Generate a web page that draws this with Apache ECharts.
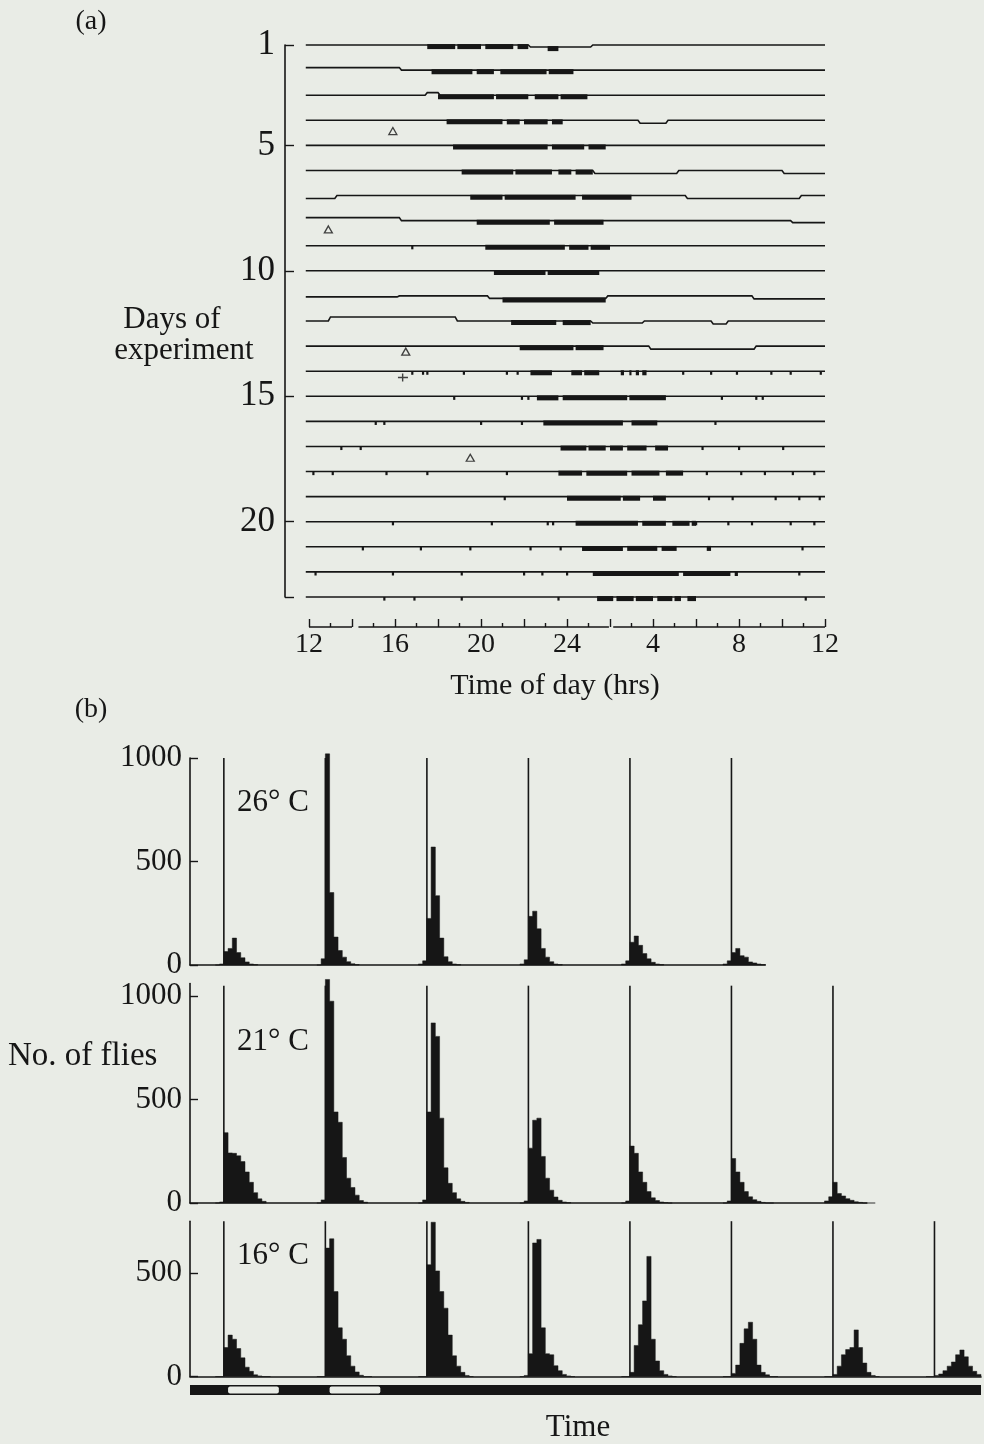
<!DOCTYPE html>
<html><head><meta charset="utf-8">
<script src="https://cdn.jsdelivr.net/npm/echarts@6/dist/echarts.min.js"></script>
<style>html,body{margin:0;padding:0;background:#e9ece6}#c{width:984px;height:1444px}</style>
</head><body><div id="c"></div>
<script>
// ---------- Panel (a): actogram ----------
const dayNumbers = [1,2,3,4,5,6,7,8,9,10,11,12,13,14,15,16,17,18,19,20,21,22,23];
const yTickDays = [1,5,10,15,20];
const xTickHours = [12,16,20,24,28,32,36]; // shown as 12 16 20 24 4 8 12
const recordStart = 11.85, recordEnd = 36;
// activity bouts (thick pen trace), hours of day continued past 24
const activityBouts = [
 [[17.5,18.8],[18.9,20.0],[20.2,21.5],[21.7,22.2],[23.1,23.6]],
 [[17.7,19.6],[19.8,20.6],[20.9,23.05],[23.15,24.3]],
 [[18.0,20.6],[20.7,22.2],[22.5,23.6],[23.7,24.95]],
 [[18.4,21.0],[21.2,21.8],[22.0,23.1],[23.3,23.8]],
 [[18.7,23.1],[23.3,24.8],[25.0,25.8]],
 [[19.1,21.5],[21.6,23.3],[23.6,24.2],[24.4,25.2]],
 [[19.5,21.0],[21.1,24.4],[24.7,27.0]],
 [[19.8,23.2],[23.4,25.7]],
 [[20.2,23.9],[24.1,25.0],[25.1,26.0]],
 [[20.6,23.0],[23.1,25.5]],
 [[21.0,25.8]],
 [[21.4,23.5],[23.8,25.1]],
 [[21.8,24.3],[24.4,25.7]],
 [[22.3,23.3],[24.2,24.7],[24.8,25.5],[26.5,26.65],[26.9,27.0],[27.2,27.35],[27.5,27.7]],
 [[22.6,23.6],[23.8,26.8],[26.9,28.6]],
 [[22.9,26.6],[27.0,28.2]],
 [[23.7,24.9],[25.0,25.8],[26.0,26.6],[26.8,27.7],[28.1,28.7]],
 [[23.6,24.7],[24.9,26.8],[27.0,28.3],[28.6,29.4]],
 [[24.0,26.5],[26.6,27.4],[28.0,28.6]],
 [[24.4,27.3],[27.5,28.6],[28.9,29.7],[29.8,30.0]],
 [[24.7,26.6],[26.8,28.2],[28.4,29.1],[30.5,30.7]],
 [[25.2,29.2],[29.4,31.6],[31.8,31.95]],
 [[25.4,26.15],[26.3,27.1],[27.2,28.0],[28.2,28.9],[29.0,29.3],[29.6,30.0]]
];
// pen baseline displacements: [fromHour, toHour, shift in days]
const baselineShifts = [
 [[22.2,25.1,0.08]],
 [[11.85,16.2,-0.1]],
 [[17.4,18.0,-0.1]],
 [[27.3,28.6,0.12]],
 [],
 [[25.2,29.1,0.12],[34.0,36,0.12]],
 [[11.85,13.2,0.12],[29.5,34.8,0.12]],
 [[11.85,16.2,-0.12],[34.4,36,0.08]],
 [],
 [],
 [[11.85,16.1,0.04],[20.3,25.8,0.1],[32.6,36,0.12]],
 [[12.9,18.8,-0.16],[25.1,27.5,0.08],[30.7,31.4,0.12]],
 [[27.8,32.7,0.12]],
 [],[],[],[],[],[],[],[],[],[]
];
// isolated short pen deflections (hours)
const penBlips = [
 [],[],[],[],[],[],[],[],[16.8],[],[],[],[],
 [16.8,17.3,17.5,19.2,21.2,21.7,29.4,30.7,31.9,33.5,34.4,35.8],
 [18.75,21.9,22.2,31.2,32.8,33.1],
 [15.1,15.5,20.0,21.9,30.9],
 [13.5,14.4,30.3,32.0,34.05],
 [12.2,13.1,15.6,17.5,21.2,30.5,32.1,33.2,34.5,35.5],
 [21.1,30.6,31.7,33.7,34.8,35.75],
 [15.9,20.5,23.1,23.35,30.0,31.5,32.6,34.4,35.5],
 [14.5,17.2,19.5,22.3,23.7,34.95],
 [12.3,15.9,19.1,22.0,22.85,24.0,34.8],
 [15.5,16.9,19.1,23.6,35.1]
];
const triangleMarks = [[15.9,4.43],[12.9,8.35],[16.5,13.22],[19.5,17.45]];
const crossMarks = [[16.37,14.25]];
const timeAxisSegments = [[12,14],[14.3,25.95],[26.15,36]];

// ---------- Panel (b): emergence histograms (hourly bins) ----------
const histBinOffset = -2; // first bin starts 2 h before each vertical line
const lines26 = [0,24,48,72,96,120];
const counts26 = [
 [0,5,65,80,130,60,35,15,5,2],
 [0,30,1020,350,135,70,38,16,6,2],
 [5,20,225,570,335,130,40,16,5,2],
 [5,25,235,260,175,80,38,16,5,2],
 [5,20,110,140,95,55,30,13,5,2],
 [5,20,60,80,45,38,15,10,5,2]
];
const lines21 = [0,24,48,72,96,120,144];
const counts21 = [
 [0,5,340,242,240,228,200,150,100,50,20,8],
 [0,15,1080,975,440,390,220,120,75,38,12,4],
 [0,15,440,870,805,410,170,95,50,20,8,3],
 [0,10,265,400,410,225,120,62,29,13,5,2],
 [0,10,275,240,150,100,55,25,12,5,2,0],
 [0,10,215,150,100,55,30,16,8,3,0,0],
 [10,30,100,46,34,21,13,6,3,0,0,0]
];
const lines16 = [0,24,48,72,96,120,144,168];
const counts16 = [
 [0,0,140,200,180,135,90,45,25,8,3,0,0],
 [0,0,620,665,410,235,180,100,50,22,6,0,0],
 [0,0,540,745,510,410,330,200,100,50,20,5,0],
 [0,5,110,645,662,235,110,105,52,28,10,3,0],
 [0,0,20,150,250,365,580,180,75,28,10,3,0],
 [0,0,15,55,160,230,262,180,55,20,8,0,0],
 [0,0,10,50,105,130,140,225,140,65,20,5,0],
 [0,0,5,12,28,50,70,105,128,95,50,25,10]
];
const lineTop26 = 1000, lineTop21 = 1050, lineTop16 = 750;
const yTicks26 = [0,500,1000], yTicks21 = [0,500,1000], yTicks16 = [0,500];
const lightPeriods = [[1,13],[25,37]];
const ldBarRange = [-8,179];

// ---------- build ----------
const ink = '#161616', bg = '#e9ece6';
const serif = "'Liberation Serif','DejaVu Serif',serif";

function shiftAt(i, h){
  for (const s of baselineShifts[i]) if (h >= s[0] && h < s[1]) return s[2];
  return 0;
}
const rowPoints = dayNumbers.map((d, i) => {
  const pts = []; let h = recordStart;
  pts.push([h, d + shiftAt(i, h)]);
  for (const s of baselineShifts[i]) {
    if (s[0] > h + 0.01) { pts.push([s[0], d]); pts.push([s[0] + 0.1, d + s[2]]); }
    if (s[1] < recordEnd - 0.01) { pts.push([s[1], d + s[2]]); pts.push([s[1] + 0.1, d]); h = s[1] + 0.1; }
    else { pts.push([recordEnd, d + s[2]]); h = recordEnd; }
  }
  if (h < recordEnd) pts.push([recordEnd, d]);
  return pts;
});
const boutData = [];
activityBouts.forEach((row, i) => row.forEach(b => boutData.push([b[0], b[1], dayNumbers[i], i])));
const blipData = [];
penBlips.forEach((row, i) => row.forEach(h => blipData.push([h, dayNumbers[i], i])));

function histSeries(idx, lines, counts){
  return {
    type:'custom', xAxisIndex:idx, yAxisIndex:idx, clip:false, silent:true,
    data: lines.map((t, k) => [t, k]), encode:{x:0},
    renderItem(p, api){
      const t0 = api.value(0) + histBinOffset, arr = counts[api.value(1)];
      const pts = [api.coord([t0, 0])];
      arr.forEach((v, j) => { pts.push(api.coord([t0 + j, v])); pts.push(api.coord([t0 + j + 1, v])); });
      pts.push(api.coord([t0 + arr.length, 0]));
      return {type:'polygon', shape:{points:pts}, style:{fill:ink, stroke:ink, lineWidth:0.5}};
    }
  };
}
function lineSeries(idx, lines, top){
  return {
    type:'custom', xAxisIndex:idx, yAxisIndex:idx, clip:false, silent:true,
    data: lines.map(t => [t, top]), encode:{x:0, y:1},
    renderItem(p, api){
      const a = api.coord([api.value(0), 0]);
      const b = api.coord([api.value(0), api.value(1)]);
      return {type:'line', shape:{x1:a[0], y1:a[1], x2:b[0], y2:b[1]}, style:{stroke:ink, lineWidth:1.6}};
    }
  };
}
const tickStyle = {color:ink, width:1.4};
function histY(idx, max, ticks){
  return {gridIndex:idx, type:'value', min:0, max:max,
    axisLine:{show:true, onZero:false, lineStyle:{color:ink, width:1.6}},
    axisTick:{show:true, inside:true, length:8, customValues:ticks, lineStyle:tickStyle},
    axisLabel:{customValues:ticks, formatter:v => String(v), fontFamily:serif, fontSize:31, color:ink, margin:8},
    splitLine:{show:false}};
}
function histX(idx, max, show){
  return {gridIndex:idx, type:'value', min:-8, max:max, show:show,
    axisLine:{show:true, onZero:false, lineStyle:{color:ink, width:1.6}},
    axisTick:{show:false}, axisLabel:{show:false}, splitLine:{show:false}};
}
const text = (x, y, s, size, align) => ({type:'text', x:x, y:y,
  style:{text:s, font:`${size}px ${serif}`, fill:ink, textAlign:align||'center', textVerticalAlign:'middle'}});

const option = {
  backgroundColor: bg, animation:false,
  grid:[
    {left:309, width:516, top:45, height:552, outerBoundsMode:'none'},
    {left:190, width:575.3, top:758, height:207, outerBoundsMode:'none'},
    {left:190, width:676.8, top:983.6, height:219.4, outerBoundsMode:'none'},
    {left:190, width:791, top:1221.2, height:155.3, outerBoundsMode:'none'},
    {left:190, width:791, top:1385, height:10, outerBoundsMode:'none'}
  ],
  xAxis:[
    {gridIndex:0, type:'value', min:12, max:36, interval:2, offset:30,
     axisLine:{show:false},
     axisTick:{show:true, inside:true, length:8, lineStyle:tickStyle},
     minorTick:{show:true, splitNumber:2, length:4, lineStyle:tickStyle},
     axisLabel:{customValues:xTickHours, formatter:v => String(v > 24 ? v - 24 : v),
       fontFamily:serif, fontSize:28, color:ink, margin:4},
     splitLine:{show:false}, minorSplitLine:{show:false}},
    histX(1, 128, true), histX(2, 152, true), histX(3, 179, true), histX(4, 179, false)
  ],
  yAxis:[
    {gridIndex:0, type:'value', min:1, max:23, inverse:true, offset:24,
     axisLine:{show:true, onZero:false, lineStyle:{color:ink, width:1.6}},
     axisTick:{show:true, inside:true, length:9, customValues:yTickDays.concat([23]), lineStyle:tickStyle},
     axisLabel:{customValues:yTickDays, fontFamily:serif, fontSize:35, color:ink, margin:10},
     splitLine:{show:false}},
    histY(1, 1000, yTicks26), histY(2, 1060, yTicks21), histY(3, 750, yTicks16),
    {gridIndex:4, type:'value', min:0, max:1, show:false}
  ],
  graphic:[
    text(91, 22, '(a)', 28),
    text(172, 320, 'Days of', 31),
    text(184, 351, 'experiment', 31),
    text(555, 686, 'Time of day (hrs)', 30),
    text(91, 710, '(b)', 28),
    text(237, 803, '26° C', 31, 'left'),
    text(237, 1042, '21° C', 31, 'left'),
    text(237, 1256, '16° C', 31, 'left'),
    text(8, 1056, 'No. of flies', 33, 'left'),
    text(578, 1428, 'Time', 31)
  ],
  series:[
    // actogram baselines
    {type:'custom', xAxisIndex:0, yAxisIndex:0, clip:false, silent:true,
     data: dayNumbers.map(d => [recordStart, d]), encode:{x:0, y:1},
     renderItem(p, api){
       const pts = rowPoints[p.dataIndex].map(q => api.coord(q));
       return {type:'polyline', shape:{points:pts}, style:{stroke:ink, lineWidth:1.6, fill:null}};
     }},
    // activity bouts
    {type:'custom', xAxisIndex:0, yAxisIndex:0, clip:false, silent:true,
     data: boutData, encode:{x:[0,1], y:2},
     renderItem(p, api){
       const i = api.value(3), d = api.value(2);
       const sh = shiftAt(i, (api.value(0) + api.value(1)) / 2);
       const a = api.coord([api.value(0), d + sh]);
       const b = api.coord([api.value(1), d + sh]);
       return {type:'rect', shape:{x:a[0], y:a[1]-0.9, width:b[0]-a[0], height:5}, style:{fill:ink}};
     }},
    // short pen blips
    {type:'custom', xAxisIndex:0, yAxisIndex:0, clip:false, silent:true,
     data: blipData, encode:{x:0, y:1},
     renderItem(p, api){
       const sh = shiftAt(api.value(2), api.value(0));
       const a = api.coord([api.value(0), api.value(1) + sh]);
       return {type:'rect', shape:{x:a[0]-1, y:a[1], width:2.2, height:3.6}, style:{fill:ink}};
     }},
    // triangles
    {type:'scatter', xAxisIndex:0, yAxisIndex:0, silent:true, data:triangleMarks,
     symbol:'triangle', symbolSize:[8,7], itemStyle:{color:bg, borderColor:ink, borderWidth:1.3}},
    {type:'scatter', xAxisIndex:0, yAxisIndex:0, silent:true, data:crossMarks,
     symbol:'path://M4,0h1.4v3.3h4.6v1.4h-4.6v3.3h-1.4v-3.3h-4v-1.4h4z', symbolSize:[10,8], itemStyle:{color:ink}},
    // broken time axis
    {type:'custom', xAxisIndex:0, yAxisIndex:0, clip:false, silent:true,
     data: timeAxisSegments, encode:{x:[0,1]},
     renderItem(p, api){
       const a = api.coord([api.value(0), 23]);
       const b = api.coord([api.value(1), 23]);
       const y = a[1] + 30;
       return {type:'line', shape:{x1:a[0], y1:y, x2:b[0], y2:y}, style:{stroke:ink, lineWidth:1.5}};
     }},
    // panel b
    lineSeries(1, lines26, lineTop26), histSeries(1, lines26, counts26),
    lineSeries(2, lines21, lineTop21), histSeries(2, lines21, counts21),
    lineSeries(3, lines16, lineTop16), histSeries(3, lines16, counts16),
    // light/dark bar
    {type:'custom', xAxisIndex:4, yAxisIndex:4, clip:false, silent:true,
     data:[ldBarRange], encode:{x:[0,1]},
     renderItem(p, api){
       const a = api.coord([api.value(0), 1]);
       const b = api.coord([api.value(1), 0]);
       return {type:'rect', shape:{x:a[0], y:a[1], width:b[0]-a[0], height:b[1]-a[1]}, style:{fill:ink}};
     }},
    {type:'custom', xAxisIndex:4, yAxisIndex:4, clip:false, silent:true,
     data:lightPeriods, encode:{x:[0,1]},
     renderItem(p, api){
       const a = api.coord([api.value(0), 0.85]);
       const b = api.coord([api.value(1), 0.15]);
       return {type:'rect', shape:{x:a[0], y:a[1], width:b[0]-a[0], height:b[1]-a[1], r:2}, style:{fill:bg}};
     }}
  ]
};
const chart = echarts.init(document.getElementById('c'), null, {renderer:'canvas'});
chart.setOption(option);
</script>
</body></html>
